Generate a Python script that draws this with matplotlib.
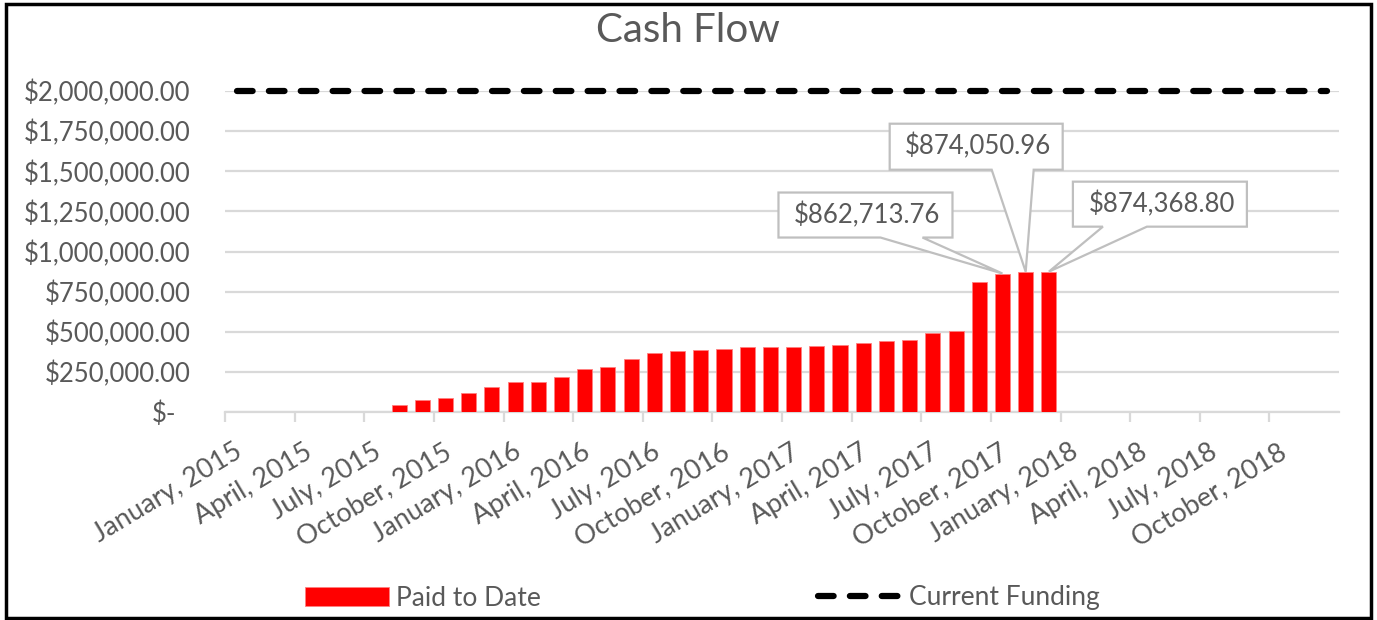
import matplotlib
matplotlib.use('Agg')
import matplotlib.pyplot as plt
import matplotlib.transforms as mtransforms
import numpy as np
import pandas as pd
from matplotlib.patches import Rectangle, Polygon

plt.rcParams['font.family'] = ['Lato', 'DejaVu Sans']

# data
axis_start = '2015-01'
axis_end = '2018-12'
paid_months = pd.period_range('2015-08', '2017-12', freq='M')
paid = [46000, 73000, 85000, 117000, 154000, 185000, 187000, 216000,
        268000, 283000, 333000, 370000, 383000, 389000, 393000, 407000,
        407000, 407000, 414000, 420000, 428000, 440000, 451000, 490000,
        507000, 812000, 862713.76, 874050.96, 874368.80]
funding = 2000000
callout_months = ['2017-10', '2017-11', '2017-12']
y_ticks = [0, 250000, 500000, 750000, 1000000, 1250000, 1500000, 1750000, 2000000]

# callout geometry, pixels relative to the bar top: box x0, x1, y0, y1, pointer base x0, x1
callout_boxes = [(-224, -50, 36, 81, -122, -80),
                 (-136, 37, 102, 148, -34, 8),
                 (24, 198, 45, 90, 54, 98)]

txt = '#595959'
grid = '#d9d9d9'
DPI = 100

all_months = pd.period_range(axis_start, axis_end, freq='M')
start = pd.Period(axis_start, freq='M')
def mpos(p):
    return (pd.Period(p, freq='M') - start).n

fig = plt.figure(figsize=(13.77, 6.2), dpi=DPI)
ax = fig.add_axes([225 / 1377, 1 - 412 / 620, (1339 - 225) / 1377, (412 - 91) / 620])

x_paid = np.array([mpos(p) for p in paid_months]) + 0.5
bars = ax.bar(x_paid, paid, width=0.65, color='#ff0000', edgecolor='#ff8080', linewidth=0.6,
              label='Paid to Date', zorder=3)

x_fund = np.array([mpos(p) for p in all_months]) + 0.5
line, = ax.plot(x_fund, [funding] * len(x_fund), color='black', lw=4.5, dashes=(2.5, 2.6),
                dash_capstyle='round', label='Current Funding', zorder=4, clip_on=False)

ax.set_xlim(0, len(all_months))
ax.set_ylim(0, 2000000)

ax.set_yticks(y_ticks)
ax.set_yticklabels(['$-' if v == 0 else f'${v:,.2f}' for v in y_ticks])
ax.yaxis.grid(True, color=grid, lw=1.6, zorder=0)
ax.tick_params(axis='y', length=0, pad=25, labelsize=18.5, labelcolor=txt)
# accounting format puts the dash further left
ylab = ax.get_yticklabels()[0]
ylab.set_transform(ylab.get_transform() + mtransforms.ScaledTranslation(-14 / DPI, 0, fig.dpi_scale_trans))

tick_months = all_months[::3]
ax.set_xticks([mpos(p) for p in tick_months])
ax.set_xticklabels([])
ax.tick_params(axis='x', length=7.2, width=1.6, color=grid)
lab_tr = ax.get_xaxis_transform() + mtransforms.ScaledTranslation(15 / DPI, -38 / DPI, fig.dpi_scale_trans)
for p in tick_months:
    ax.text(mpos(p), 0, p.strftime('%B, %Y'), transform=lab_tr, rotation=31,
            ha='right', va='center', rotation_mode='anchor', fontsize=19.5, color=txt)

for s in ['top', 'right', 'left']:
    ax.spines[s].set_visible(False)
ax.spines['bottom'].set_color(grid)
ax.spines['bottom'].set_linewidth(1.6)

# callouts
for m, (bx0, bx1, by0, by1, px0, px1) in zip(callout_months, callout_boxes):
    i = list(paid_months.strftime('%Y-%m')).index(m)
    tip = ax.transData.transform((x_paid[i], paid[i]))
    tr = mtransforms.Affine2D().translate(*tip)
    verts = [(0, 0), (px1, by0), (bx1, by0), (bx1, by1), (bx0, by1), (bx0, by0), (px0, by0)]
    ax.add_patch(Polygon(verts, closed=True, transform=tr, fc='white', ec='#bfbfbf',
                         lw=1.6, zorder=6, clip_on=False))
    ax.text((bx0 + bx1) / 2 + 2, (by0 + by1) / 2, f'${paid[i]:,.2f}', transform=tr,
            ha='center', va='center', fontsize=18.5, color=txt, zorder=7)

fig.text(688 / 1377, 1 - 30 / 620, 'Cash Flow', ha='center', va='center',
         fontsize=29, color=txt)

fig.legend(handles=[bars, line], loc='center', bbox_to_anchor=(702 / 1377, 1 - 598 / 620),
           ncol=2, frameon=False, fontsize=19, handlelength=3.2, handletextpad=0.25,
           columnspacing=10.5, labelcolor=txt)

fig.patches.append(Rectangle((6 / 1377, 2 / 620), 1365 / 1377, 614 / 620,
                             transform=fig.transFigure, fill=False, ec='black', lw=2.5))

fig.savefig('out.png', dpi=DPI)
